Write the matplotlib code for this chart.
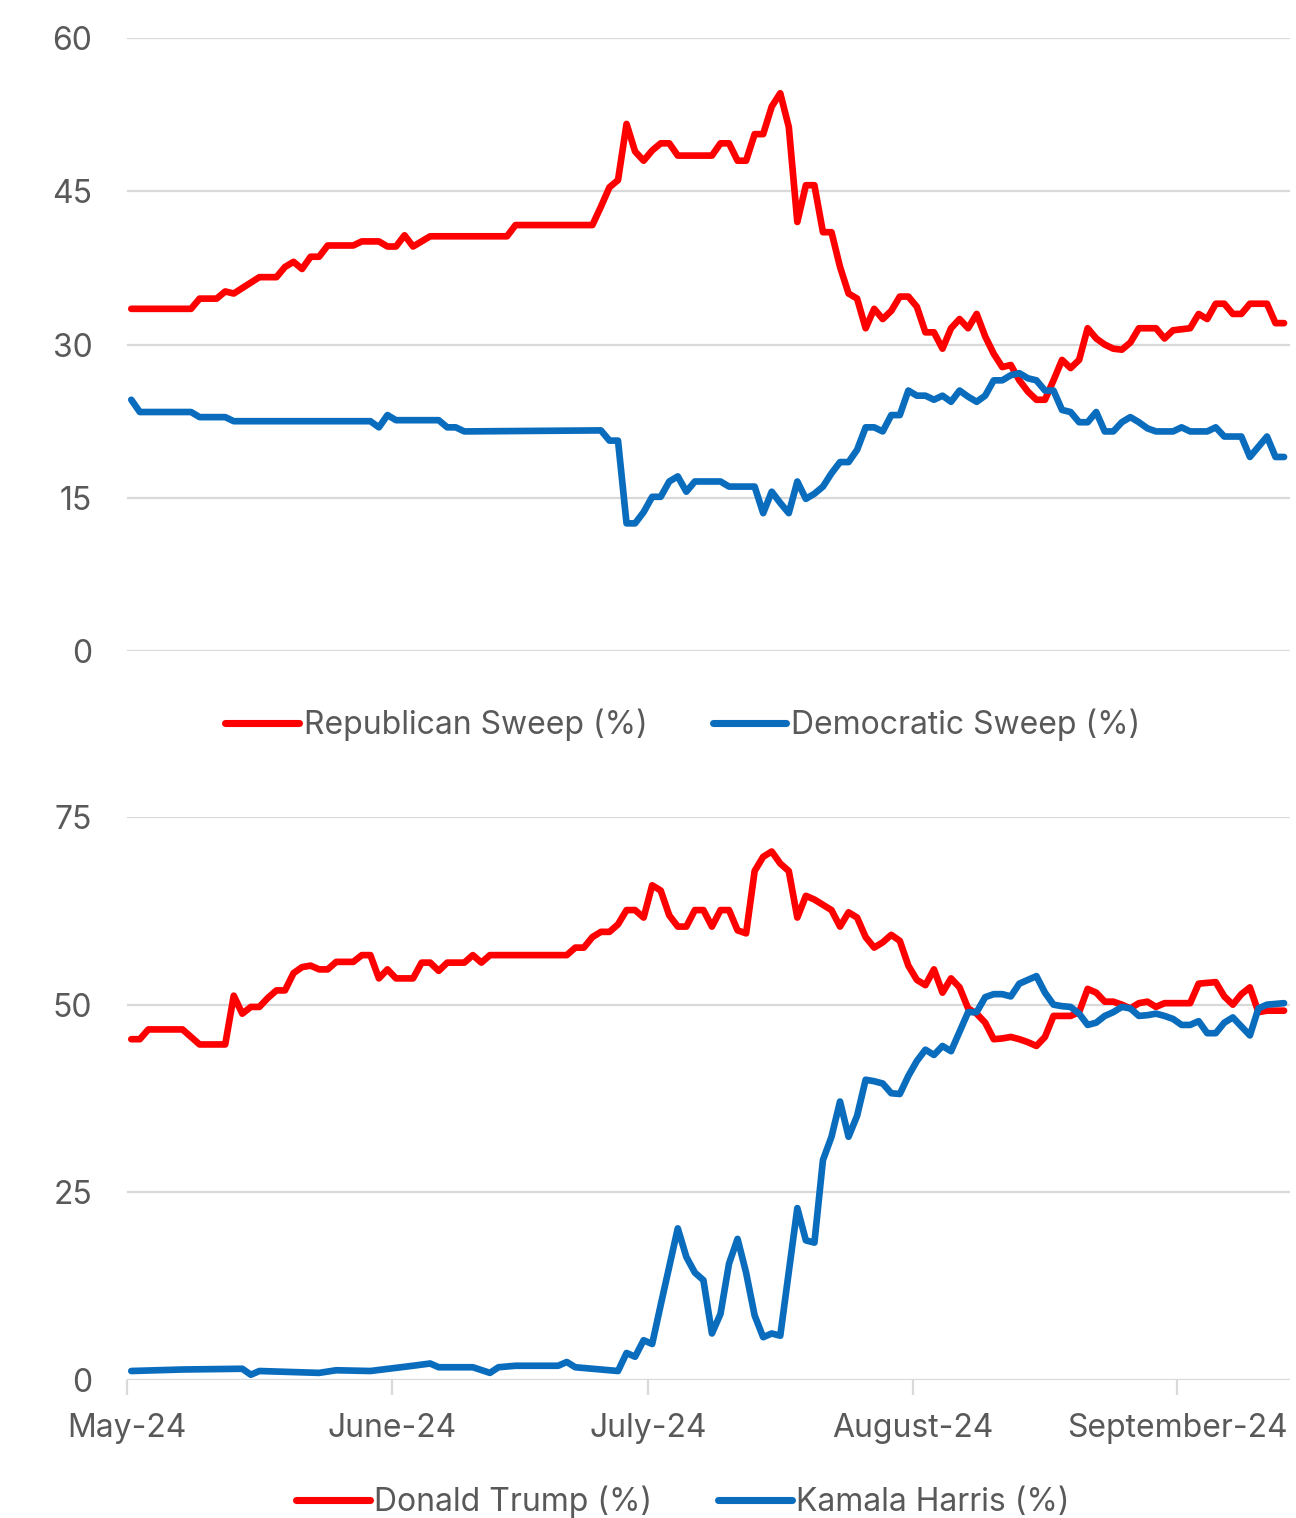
import numpy as np
import matplotlib
matplotlib.use('Agg')
import matplotlib.pyplot as plt
from matplotlib.lines import Line2D

plt.rcParams['font.family'] = ['Inter', 'DejaVu Sans']

# day index counted from 1 May 2024, values in percent
rep_day = [0, 7, 8, 10, 11, 12, 15, 17, 18, 19, 20, 21, 22, 23, 26, 27, 29, 30, 31, 32,
           33, 35, 44, 45, 54, 55, 56, 57, 58, 59, 60, 61, 62, 63, 64, 68, 69, 70, 71, 72,
           73, 74, 75, 76, 77, 78, 79, 80, 81, 82, 83, 84, 85, 86, 87, 88, 89, 90, 91, 92,
           93, 94, 95, 96, 97, 98, 99, 100, 101, 102, 103, 104, 105, 106, 107, 108, 109, 110, 111, 112,
           113, 114, 115, 116, 117, 118, 120, 121, 122, 124, 125, 126, 127, 128, 129, 130, 131, 133, 134, 135]
rep_val = [33.5, 33.5, 34.5, 34.5, 35.2, 35.0, 36.6, 36.6, 37.6, 38.1, 37.4, 38.6, 38.6, 39.7, 39.7, 40.1, 40.1, 39.6, 39.6, 40.7,
           39.6, 40.6, 40.6, 41.7, 41.7, 43.5, 45.4, 46.1, 51.6, 48.9, 48.0, 49.0, 49.7, 49.7, 48.5, 48.5, 49.7, 49.7, 48.0, 48.0,
           50.6, 50.6, 53.3, 54.6, 51.3, 42.0, 45.6, 45.6, 41.0, 41.0, 37.6, 35.0, 34.5, 31.6, 33.5, 32.5, 33.3, 34.7, 34.7, 33.7,
           31.2, 31.2, 29.6, 31.6, 32.5, 31.6, 33.0, 30.8, 29.1, 27.8, 28.0, 26.5, 25.4, 24.6, 24.6, 26.5, 28.5, 27.7, 28.5, 31.6,
           30.6, 30.0, 29.6, 29.5, 30.2, 31.6, 31.6, 30.6, 31.4, 31.6, 33.0, 32.5, 34.0, 34.0, 33.0, 33.0, 34.0, 34.0, 32.1, 32.1]

dem_day = [0, 1, 7, 8, 11, 12, 28, 29, 30, 31, 36, 37, 38, 39, 55, 56, 57, 58, 59, 60,
           61, 62, 63, 64, 65, 66, 69, 70, 73, 74, 75, 76, 77, 78, 79, 80, 81, 82, 83, 84,
           85, 86, 87, 88, 89, 90, 91, 92, 93, 94, 95, 96, 97, 98, 99, 100, 101, 102, 103, 104,
           105, 106, 107, 108, 109, 110, 111, 112, 113, 114, 115, 116, 117, 118, 119, 120, 122, 123, 124, 126,
           127, 128, 130, 131, 132, 133, 134, 135]
dem_val = [24.6, 23.4, 23.4, 22.9, 22.9, 22.5, 22.5, 21.9, 23.1, 22.6, 22.6, 21.9, 21.9, 21.5, 21.6, 20.6, 20.6, 12.5, 12.5, 13.6,
           15.1, 15.1, 16.6, 17.1, 15.6, 16.6, 16.6, 16.1, 16.1, 13.5, 15.6, 14.5, 13.5, 16.6, 14.9, 15.4, 16.1, 17.4, 18.5, 18.5,
           19.7, 21.9, 21.9, 21.5, 23.1, 23.1, 25.5, 25.0, 25.0, 24.6, 25.0, 24.4, 25.5, 24.9, 24.4, 25.0, 26.5, 26.5, 27.0, 27.2,
           26.7, 26.5, 25.5, 25.5, 23.6, 23.4, 22.4, 22.4, 23.4, 21.5, 21.5, 22.4, 22.9, 22.4, 21.8, 21.5, 21.5, 21.9, 21.5, 21.5,
           21.9, 21.0, 21.0, 19.0, 20.0, 21.0, 19.0, 19.0]

trump_day = [0, 1, 2, 6, 8, 11, 12, 13, 14, 15, 16, 17, 18, 19, 20, 21, 22, 23, 24, 26,
             27, 28, 29, 30, 31, 33, 34, 35, 36, 37, 39, 40, 41, 42, 51, 52, 53, 54, 55, 56,
             57, 58, 59, 60, 61, 62, 63, 64, 65, 66, 67, 68, 69, 70, 71, 72, 73, 74, 75, 76,
             77, 78, 79, 80, 81, 82, 83, 84, 85, 86, 87, 88, 89, 90, 91, 92, 93, 94, 95, 96,
             97, 98, 99, 100, 101, 102, 103, 104, 105, 106, 107, 108, 110, 111, 112, 113, 114, 115, 116, 117,
             118, 119, 120, 121, 124, 125, 126, 127, 128, 129, 130, 131, 132, 133, 135]
trump_val = [45.4, 45.4, 46.7, 46.7, 44.7, 44.7, 51.2, 48.8, 49.7, 49.7, 50.9, 51.9, 51.9, 54.2, 55.0, 55.2, 54.7, 54.7, 55.7, 55.7,
             56.6, 56.6, 53.5, 54.7, 53.5, 53.5, 55.6, 55.6, 54.5, 55.6, 55.6, 56.6, 55.6, 56.6, 56.6, 57.6, 57.6, 59.0, 59.7, 59.7,
             60.7, 62.6, 62.6, 61.6, 65.9, 65.2, 61.9, 60.4, 60.4, 62.6, 62.6, 60.4, 62.6, 62.6, 59.9, 59.5, 67.8, 69.7, 70.4, 68.8,
             67.8, 61.6, 64.5, 64.0, 63.3, 62.6, 60.4, 62.3, 61.6, 59.0, 57.6, 58.3, 59.3, 58.5, 55.2, 53.3, 52.6, 54.7, 51.6, 53.5,
             52.3, 49.5, 48.8, 47.6, 45.4, 45.5, 45.7, 45.4, 45.0, 44.5, 45.7, 48.5, 48.5, 49.0, 52.1, 51.6, 50.4, 50.4, 50.0, 49.5,
             50.2, 50.4, 49.7, 50.2, 50.2, 52.8, 52.9, 53.0, 51.1, 50.0, 51.4, 52.3, 49.0, 49.2, 49.2]

harris_day = [0, 6, 13, 14, 15, 22, 24, 28, 33, 35, 36, 40, 42, 43, 45, 50, 51, 52, 55, 57,
              58, 59, 60, 61, 62, 64, 65, 66, 67, 68, 69, 70, 71, 72, 73, 74, 75, 76, 78, 79,
              80, 81, 82, 83, 84, 85, 86, 87, 88, 89, 90, 91, 92, 93, 94, 95, 96, 97, 98, 99,
              100, 101, 102, 103, 104, 105, 106, 107, 108, 109, 110, 111, 112, 113, 114, 115, 116, 117, 118, 119,
              120, 121, 122, 123, 124, 125, 126, 127, 128, 129, 130, 131, 132, 133, 134, 135]
harris_val = [1.2, 1.4, 1.5, 0.7, 1.2, 0.95, 1.3, 1.2, 1.9, 2.2, 1.7, 1.7, 0.95, 1.7, 1.9, 1.9, 2.4, 1.7, 1.4, 1.2,
              3.6, 3.1, 5.3, 4.8, 10.0, 20.2, 16.4, 14.3, 13.3, 6.2, 8.8, 15.5, 18.8, 14.3, 8.6, 5.7, 6.2, 5.9, 22.9, 18.6,
              18.3, 29.3, 32.4, 37.1, 32.4, 35.2, 40.0, 39.8, 39.5, 38.2, 38.1, 40.5, 42.5, 44.0, 43.3, 44.5, 43.8, 46.4, 49.0, 49.0,
              51.0, 51.4, 51.4, 51.1, 52.8, 53.3, 53.8, 51.6, 50.0, 49.8, 49.7, 48.8, 47.3, 47.6, 48.5, 49.0, 49.7, 49.5, 48.5, 48.6,
              48.8, 48.5, 48.1, 47.3, 47.3, 47.8, 46.2, 46.2, 47.6, 48.3, 47.1, 45.9, 49.5, 50.0, 50.1, 50.2]

month_start = [0, 31, 61, 92, 123]
month_labels = ['May-24', 'June-24', 'July-24', 'August-24', 'September-24']

RED = '#FF0000'
BLUE = '#0A6CBD'
GRID = '#D9D9D9'
TEXT = '#595959'
LW = 4.8
FS = 23


def style_axis(ax, ymax, step):
    ax.set_xlim(0, 136.2)
    ax.set_ylim(0, ymax)
    ax.set_yticks(np.arange(0, ymax + 1, step))
    ax.grid(axis='y', color=GRID, linewidth=1.6)
    ax.set_axisbelow(True)
    for s in ax.spines.values():
        s.set_visible(False)
    ax.tick_params(axis='y', length=0, pad=25, labelsize=FS, labelcolor=TEXT)


def draw(ax, day, val, color):
    x = np.array(day) + 0.5
    ax.plot(x, val, color=color, lw=LW, solid_joinstyle='round',
            solid_capstyle='round', clip_on=False)


fig = plt.figure(figsize=(12.96, 15.18), dpi=100)
ax1 = fig.add_axes([0.098, 0.5711, 0.8974, 0.4038])
ax2 = fig.add_axes([0.098, 0.0909, 0.8974, 0.3709])

style_axis(ax1, 60, 15)
ax1.set_xticks([])
draw(ax1, rep_day, rep_val, RED)
draw(ax1, dem_day, dem_val, BLUE)

style_axis(ax2, 75, 25)
ax2.set_xticks(month_start)
ax2.set_xticklabels(month_labels)
ax2.tick_params(axis='x', length=11, width=1.6, color=GRID, pad=13,
                labelsize=FS, labelcolor=TEXT)
draw(ax2, trump_day, trump_val, RED)
draw(ax2, harris_day, harris_val, BLUE)


def legend(labels, y):
    handles = [Line2D([], [], color=RED, lw=LW + 0.3, solid_capstyle='round'),
               Line2D([], [], color=BLUE, lw=LW + 0.3, solid_capstyle='round')]
    leg = fig.legend(handles, labels, loc='center', bbox_to_anchor=(0.527, y),
                     ncol=2, frameon=False, fontsize=FS, handlelength=2.3,
                     handletextpad=0.15, columnspacing=2.05, borderpad=0)
    for t in leg.get_texts():
        t.set_color(TEXT)


legend(['Republican Sweep (%)', 'Democratic Sweep (%)'], 0.5225)
legend(['Donald Trump (%)', 'Kamala Harris (%)'], 0.0105)

fig.savefig('out.png', dpi=100)
